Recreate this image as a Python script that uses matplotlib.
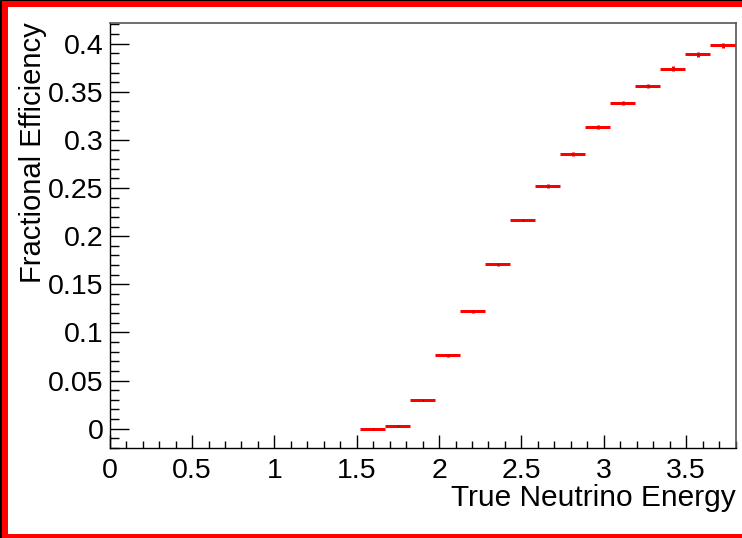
import numpy as np
import matplotlib.pyplot as plt
from matplotlib.patches import Rectangle
from matplotlib.ticker import MultipleLocator

plt.rcParams['font.family'] = ['Liberation Sans', 'DejaVu Sans']

# histogram binning: 25 bins over 0 - 3.8, only bins 10..24 are filled
n_bins = 25
x_lo, x_hi = 0.0, 3.8
first_bin = 10
efficiency = [0.0, 0.003, 0.0295, 0.0763, 0.122, 0.1708, 0.2168, 0.2522,
              0.2857, 0.3138, 0.3381, 0.356, 0.374, 0.389, 0.3983]
eff_err = [0.0005, 0.001, 0.001, 0.0015, 0.0015, 0.0015, 0.0015, 0.002,
           0.002, 0.002, 0.002, 0.0025, 0.0025, 0.0025, 0.0025]

edges = np.linspace(x_lo, x_hi, n_bins + 1)
lo = edges[first_bin:first_bin + len(efficiency)]
hi = edges[first_bin + 1:first_bin + 1 + len(efficiency)]
centres = 0.5 * (lo + hi)

W, H = 742, 538
fig = plt.figure(figsize=(W / 100, H / 100), dpi=100)
ax = fig.add_axes([109.7 / W, 1 - 448.3 / H, (735.5 - 109.7) / W, (448.3 - 22.7) / H])

px = 72 / 100  # points per pixel
ax.hlines(efficiency, lo, hi, colors='#ff0000', linewidth=3 * px)
ax.errorbar(centres, efficiency, yerr=eff_err, fmt='none', ecolor='#ff0000',
            elinewidth=3 * px, capsize=0)
ax.plot(centres, efficiency, 'o', color='#800000', markersize=1.0, markeredgewidth=0)

ax.set_xlim(x_lo, x_hi)
ax.set_ylim(-0.0204, 0.4218)

ax.xaxis.set_minor_locator(MultipleLocator(0.1))
ax.yaxis.set_minor_locator(MultipleLocator(0.01))
ax.set_xticks([0, 0.5, 1, 1.5, 2, 2.5, 3, 3.5])
ax.set_xticklabels(['0', '0.5', '1', '1.5', '2', '2.5', '3', '3.5'])
ax.set_yticks([0, 0.05, 0.1, 0.15, 0.2, 0.25, 0.3, 0.35, 0.4])
ax.set_yticklabels(['0', '0.05', '0.1', '0.15', '0.2', '0.25', '0.3', '0.35', '0.4'])

ax.tick_params(axis='y', which='major', direction='in', length=18.7 * px, width=1,
               labelsize=20.5, pad=4.4, right=False)
ax.tick_params(axis='y', which='minor', direction='in', length=9.3 * px, width=1, right=False)
ax.tick_params(axis='x', which='major', direction='in', length=13.3 * px, width=1,
               labelsize=20.5, pad=7.0, top=False)
ax.tick_params(axis='x', which='minor', direction='in', length=6.7 * px, width=1, top=False)

for s in ['left', 'bottom']:
    ax.spines[s].set_color('black')
    ax.spines[s].set_linewidth(1)
for s in ['top', 'right']:
    ax.spines[s].set_color('#555555')
    ax.spines[s].set_linewidth(1.2)

ax.set_xlabel('True Neutrino Energy', fontsize=21.5, loc='right', labelpad=0)
ax.set_ylabel('Fractional Efficiency', fontsize=21, loc='top', labelpad=1)

# canvas frame: black strip and red border
fig.patches.append(Rectangle((0, 0), 2 / W, 1, transform=fig.transFigure,
                             facecolor='black', edgecolor='none'))
fig.patches.append(Rectangle((2 / W, 0), 6 / W, 1, transform=fig.transFigure,
                             facecolor='#ff0000', edgecolor='none'))
fig.patches.append(Rectangle((0, 1 - 1 / H), 1, 1 / H, transform=fig.transFigure,
                             facecolor='black', edgecolor='none'))
fig.patches.append(Rectangle((2 / W, 1 - 7 / H), 1, 6 / H, transform=fig.transFigure,
                             facecolor='#ff0000', edgecolor='none'))
fig.patches.append(Rectangle((2 / W, 0), 1, 4 / H, transform=fig.transFigure,
                             facecolor='#ff0000', edgecolor='none'))

fig.savefig('out.png', dpi=100)
